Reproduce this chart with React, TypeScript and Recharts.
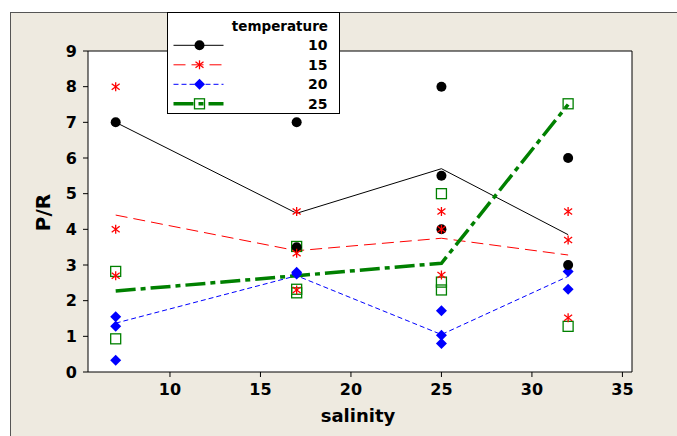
import React from 'react';
import { ComposedChart, Line, Scatter, XAxis, YAxis, CartesianGrid } from 'recharts';

// salinity levels where the means are drawn
const salinity = [7, 17, 25, 32];

// mean P/R per temperature (the connecting lines)
const mean10 = [7, 4.45, 5.7, 3.85];
const mean15 = [4.4, 3.4, 3.75, 3.28];
const mean20 = [1.37, 2.7, 1.05, 2.68];
const mean25 = [2.27, 2.7, 3.05, 7.5];

// individual observations [salinity, P/R]
const obs10: [number, number][] = [
  [7, 7], [17, 7], [17, 3.5], [25, 8], [25, 5.5], [25, 4], [32, 6], [32, 3],
];
const obs15: [number, number][] = [
  [7, 8], [7, 4], [7, 2.7], [17, 4.5], [17, 3.33], [17, 2.3],
  [25, 4.5], [25, 4], [25, 2.72], [32, 4.5], [32, 3.7], [32, 1.52],
];
const obs20: [number, number][] = [
  [7, 1.55], [7, 1.28], [7, 0.33], [17, 2.8], [17, 2.75],
  [25, 1.72], [25, 1.03], [25, 0.8], [32, 2.82], [32, 2.32],
];
const obs25: [number, number][] = [
  [7, 2.82], [7, 0.93], [17, 3.52], [17, 2.32], [17, 2.22],
  [25, 5], [25, 2.52], [25, 2.3], [32, 7.52], [32, 1.28],
];

const xTicks = [10, 15, 20, 25, 30, 35];
const yTicks = [0, 1, 2, 3, 4, 5, 6, 7, 8, 9];
const temperatures = ['10', '15', '20', '25'];
const xDomain: [number, number] = [5.47, 35.53];

const FONT = '"DejaVu Sans", Verdana, sans-serif';
const RED = '#ff0000';
const BLUE = '#0000ff';
const GREEN = '#008000';

const toLine = (vals: number[]) => salinity.map((s, i) => ({ x: s, y: vals[i] }));
const toPts = (pts: [number, number][]) => pts.map(([x, y]) => ({ x, y }));

const Dot = ({ cx, cy }: any) => <circle cx={cx} cy={cy} r={5} fill="#000" />;
const Star = ({ cx, cy }: any) => (
  <g stroke={RED} strokeWidth={1.3}>
    <line x1={cx} y1={cy - 4.5} x2={cx} y2={cy + 4.5} />
    <line x1={cx - 4} y1={cy - 3} x2={cx + 4} y2={cy + 3} />
    <line x1={cx - 4} y1={cy + 3} x2={cx + 4} y2={cy - 3} />
  </g>
);
const Diamond = ({ cx, cy }: any) => (
  <polygon points={`${cx},${cy - 5.5} ${cx + 5.5},${cy} ${cx},${cy + 5.5} ${cx - 5.5},${cy}`} fill={BLUE} />
);
const Square = ({ cx, cy }: any) => (
  <rect x={cx - 5} y={cy - 5} width={10} height={10} fill="none" stroke={GREEN} strokeWidth={1.3} />
);

const tickStyle = { fontFamily: FONT, fontWeight: 'bold' as const, fontSize: 16, fill: '#000' };

const Legend = () => {
  const rows = [
    { stroke: '#000', width: 1, dash: undefined, marker: (y: number) => <Dot cx={31.5} cy={y} /> },
    { stroke: RED, width: 1, dash: '12 6', marker: (y: number) => <Star cx={31.5} cy={y} /> },
    { stroke: BLUE, width: 1, dash: '5 3', marker: (y: number) => <Diamond cx={31.5} cy={y} /> },
    { stroke: GREEN, width: 3.5, dash: '20 5 5 5', marker: (y: number) => <Square cx={31.5} cy={y} /> },
  ];
  return (
    <svg
      width={173}
      height={102}
      style={{ position: 'absolute', left: 167, top: 12, background: '#fff', border: '1px solid #000', boxSizing: 'border-box' }}
    >
      <text x={160} y={17.5} textAnchor="end" fontFamily={FONT} fontWeight="bold" fontSize={13.5}>
        temperature
      </text>
      {rows.map((r, i) => {
        const cy = 32.3 + i * 19.5;
        return (
          <g key={i}>
            <line x1={5.5} x2={55.5} y1={cy} y2={cy} stroke={r.stroke} strokeWidth={r.width} strokeDasharray={r.dash} />
            {r.marker(cy)}
            <text x={159.5} y={cy + 5} textAnchor="end" fontFamily={FONT} fontWeight="bold" fontSize={14}>
              {temperatures[i]}
            </text>
          </g>
        );
      })}
    </svg>
  );
};

export default function App() {
  return (
    <div style={{ position: 'absolute', left: 0, top: 0, width: 677, height: 436, background: '#fff', overflow: 'hidden' }}>
      <div
        style={{
          position: 'absolute', left: 10, top: 12, width: 667, height: 424, background: '#eeeae0',
          borderLeft: '1px solid #555', borderTop: '1px solid #555', boxSizing: 'border-box',
        }}
      />
      <div style={{ position: 'absolute', left: 0, top: 0 }}>
        <ComposedChart width={677} height={436} margin={{ top: 51, right: 45, left: 28, bottom: 24 }}>
          <CartesianGrid
            fill="#fff"
            stroke="#000"
            strokeOpacity={1}
            horizontalValues={[9]}
            verticalValues={[xDomain[1]]}
          />
          <XAxis
            dataKey="x"
            type="number"
            domain={xDomain}
            ticks={xTicks}
            allowDataOverflow
            height={40}
            tickSize={5}
            tickMargin={7}
            tick={tickStyle}
            stroke="#000"
            label={{
              content: ({ viewBox }: any) => (
                <text x={viewBox.x + viewBox.width / 2 - 2} y={viewBox.y + 49.7} textAnchor="middle"
                  fontFamily={FONT} fontWeight="bold" fontSize={18} fill="#000">salinity</text>
              ),
            }}
          />
          <YAxis
            type="number"
            domain={[0, 9]}
            ticks={yTicks}
            allowDataOverflow
            width={60}
            tickSize={5}
            tickMargin={6}
            tick={tickStyle}
            stroke="#000"
            label={{
              content: ({ viewBox }: any) => {
                const x = viewBox.x + 14.5;
                const y = viewBox.y + viewBox.height / 2 + 1;
                return (
                  <text x={x} y={y} transform={`rotate(-90, ${x}, ${y})`} textAnchor="middle" dominantBaseline="central"
                    fontFamily={FONT} fontWeight="bold" fontSize={20} fill="#000">P/R</text>
                );
              },
            }}
          />

          <Line data={toLine(mean10)} dataKey="y" stroke="#000" strokeWidth={1} dot={false} activeDot={false} isAnimationActive={false} />
          <Line data={toLine(mean15)} dataKey="y" stroke={RED} strokeWidth={1} strokeDasharray="12 6" dot={false} activeDot={false} isAnimationActive={false} />
          <Line data={toLine(mean20)} dataKey="y" stroke={BLUE} strokeWidth={1} strokeDasharray="5 3" dot={false} activeDot={false} isAnimationActive={false} />
          <Line data={toLine(mean25)} dataKey="y" stroke={GREEN} strokeWidth={3.5} strokeDasharray="20 5 5 5" dot={false} activeDot={false} isAnimationActive={false} />

          <Scatter data={toPts(obs25)} dataKey="y" shape={Square} isAnimationActive={false} />
          <Scatter data={toPts(obs20)} dataKey="y" shape={Diamond} isAnimationActive={false} />
          <Scatter data={toPts(obs10)} dataKey="y" shape={Dot} isAnimationActive={false} />
          <Scatter data={toPts(obs15)} dataKey="y" shape={Star} isAnimationActive={false} />
        </ComposedChart>
      </div>
      <Legend />
    </div>
  );
}
